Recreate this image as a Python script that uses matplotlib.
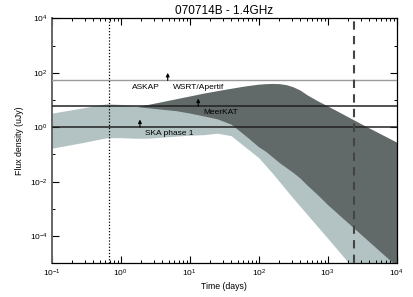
import numpy as np
import matplotlib
matplotlib.use("Agg")
import matplotlib.pyplot as plt
from matplotlib.ticker import FixedLocator, NullFormatter, LogFormatterMathtext

plt.rcParams['font.family'] = ['Liberation Sans', 'DejaVu Sans']

# light band (model range, uJy)
light_days = [0.1, 0.251, 0.631, 1.0, 1.58, 2.51, 3.98, 6.31, 10, 15.8, 25.1,
              39.8, 63.1, 100, 158, 316, 1000, 3162, 10000]
light_low = [0.169, 0.258, 0.411, 0.411, 0.394, 0.394, 0.428, 0.467, 0.508, 0.530,
             0.601, 0.487, 0.192, 0.0757, 0.0204, 0.00245, 8.3e-5, 2.7e-6, 8.7e-8]
light_high = [3.27, 4.87, 7.31, 6.89, 6.07, 5.68, 5.43, 5.21, 4.79, 4.40, 3.87,
              2.76, 1.81, 1.09, 0.508, 0.169, 0.0262, 0.00316, 2.5e-4]

# dark band
dark_days = [1.72, 2.51, 3.98, 6.31, 10, 15.8, 25.1, 39.8, 63.1, 100, 126, 158,
             200, 251, 316, 398, 501, 708, 1000, 3162, 10000]
dark_low = [5.68, 5.13, 4.55, 4.05, 3.30, 2.60, 2.02, 1.29, 0.508, 0.189, 0.130,
            0.081, 0.0495, 0.0327, 0.0216, 0.01345, 0.0075, 0.00336, 0.00142,
            1.05e-4, 7.8e-6]
dark_high = [5.68, 6.89, 8.73, 11.07, 14.03, 17.8, 22.0, 26.9, 32.7, 38.1, 39.7,
             40.5, 39.7, 36.5, 30.3, 23.1, 15.5, 9.42, 6.01, 1.27, 0.281]

# survey sensitivities (uJy) and arrow times (days)
askap_level = 52
meerkat_level = 5.9
ska_level = 1.0
arrow_days = [4.8, 13.3, 1.9]
arrow_levels = [askap_level, meerkat_level, ska_level]

t_dotted = 0.68
t_dashed = 2400

fig = plt.figure(figsize=(4.14, 2.97), dpi=100)
ax = fig.add_axes([0.1249, 0.1135, 0.8333, 0.8249])

ax.fill_between(light_days, light_low, light_high, color='#b3c3c3', lw=0, zorder=1)
ax.fill_between(dark_days, dark_low, dark_high, color='#616969', lw=0, zorder=2)

ax.axhline(askap_level, color='#9a9a9a', lw=1.0, zorder=3)
ax.axhline(meerkat_level, color='#222222', lw=1.1, zorder=3)
ax.axhline(ska_level, color='#222222', lw=1.1, zorder=3)

ax.axvline(t_dotted, color='k', lw=0.9, ls=(0, (1, 1.5)), zorder=4)
ax.axvline(t_dashed, color='#444444', lw=1.5, ls=(0, (4, 3)), zorder=4)

for t, lev in zip(arrow_days, arrow_levels):
    ax.annotate('', xy=(t, lev * 1.9), xytext=(t, lev),
                arrowprops=dict(arrowstyle='-|>', color='k', lw=0.8,
                                mutation_scale=5, shrinkA=0, shrinkB=0),
                zorder=5)

fs = 6
ax.text(1.46, 29.5, 'ASKAP', fontsize=fs, va='center', ha='left', zorder=5)
ax.text(5.73, 29.5, 'WSRT/Apertif', fontsize=fs, va='center', ha='left', zorder=5)
ax.text(15.6, 3.56, 'MeerKAT', fontsize=fs, va='center', ha='left', zorder=5)
ax.text(2.25, 0.60, 'SKA phase 1', fontsize=fs, va='center', ha='left', zorder=5)

ax.set_xscale('log')
ax.set_yscale('log')
ax.set_xlim(0.1, 1e4)
ax.set_ylim(1e-5, 1e4)

ax.yaxis.set_major_locator(FixedLocator([1e-4, 1e-2, 1, 1e2, 1e4]))
ax.yaxis.set_minor_locator(FixedLocator([1e-3, 1e-1, 1e1, 1e3]))
ax.yaxis.set_minor_formatter(NullFormatter())
ax.yaxis.set_major_formatter(LogFormatterMathtext())

ax.tick_params(which='both', direction='in', top=True, right=True, labelsize=6)
ax.tick_params(which='major', length=5, width=0.8, pad=3)
ax.tick_params(which='minor', length=2.5, width=0.7)

for s in ax.spines.values():
    s.set_linewidth(0.9)
ax.spines['left'].set_color('#666666')
ax.spines['left'].set_linewidth(1.4)

ax.set_title('070714B - 1.4GHz', fontsize=8.5, pad=3)
ax.set_xlabel('Time (days)', fontsize=6.3, labelpad=2)
ax.set_ylabel('Flux density (uJy)', fontsize=6.3, labelpad=4)

fig.savefig('out.png', dpi=100)
